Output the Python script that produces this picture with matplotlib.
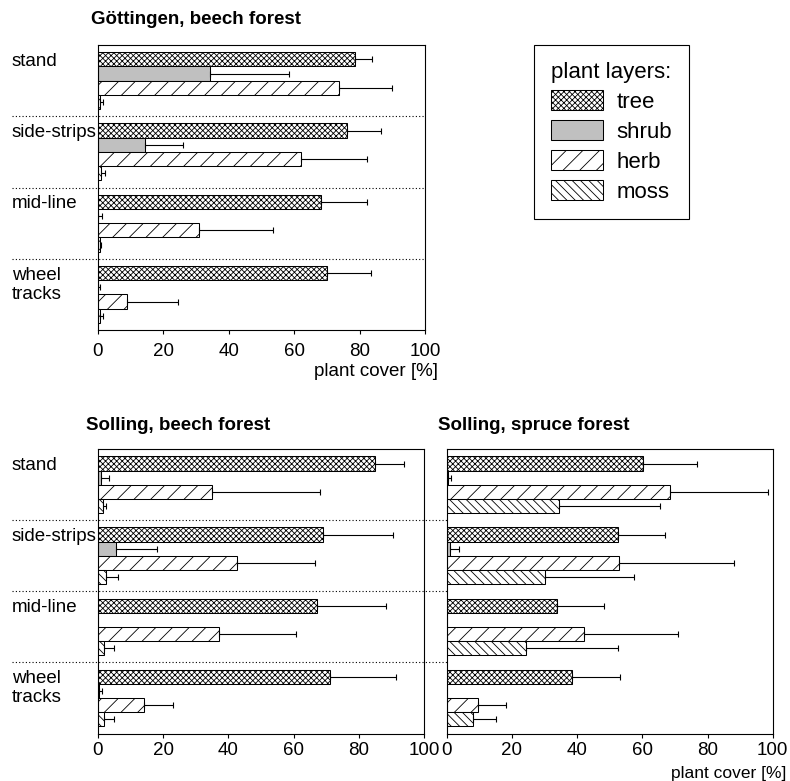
import numpy as np
import matplotlib
matplotlib.use('Agg')
import matplotlib.pyplot as plt
import matplotlib.transforms as mtransforms
from matplotlib.patches import Patch

plt.rcParams['font.family'] = ['Liberation Sans', 'DejaVu Sans']
plt.rcParams['font.size'] = 13.5
plt.rcParams['hatch.linewidth'] = 0.6

### data ##############################################################
groups = ['stand', 'side-strips', 'mid-line', 'wheel\ntracks']
layers = ['tree', 'shrub', 'herb', 'moss']

# mean plant cover [%], rows = layers (tree, shrub, herb, moss), cols = groups
goe_beech_cover = [[78.7, 76.1, 68.2, 70.0],
                   [34.4, 14.4, 0.2, 0.1],
                   [73.7, 62.2, 30.9, 9.1],
                   [0.7, 1.0, 0.7, 0.7]]
goe_beech_sd = [[5.2, 10.5, 14.2, 13.4],
                [24.2, 11.7, 1.0, 0.6],
                [16.3, 20.1, 22.8, 15.3],
                [0.8, 1.1, 0.3, 1.0]]

sol_beech_cover = [[85.0, 68.9, 67.1, 71.0],
                   [1.1, 5.7, 0.2, 0.3],
                   [35.0, 42.8, 37.1, 14.3],
                   [1.6, 2.5, 1.8, 1.8]]
sol_beech_sd = [[8.7, 21.4, 21.3, 20.2],
                [2.3, 12.4, 0.0, 1.1],
                [33.0, 23.8, 23.7, 8.9],
                [0.9, 3.8, 3.3, 3.1]]

sol_spruce_cover = [[60.1, 52.4, 33.9, 38.5],
                    [0.4, 1.1, 0.0, 0.2],
                    [68.5, 53.0, 42.0, 9.7],
                    [34.4, 30.1, 24.4, 8.2]]
sol_spruce_sd = [[16.6, 14.7, 14.5, 14.8],
                 [0.9, 2.7, 0.0, 0.0],
                 [30.0, 35.1, 29.0, 8.5],
                 [31.1, 27.5, 28.1, 6.9]]

### styles ############################################################
layer_face = ['white', '#c0c0c0', 'white', 'white']
layer_hatch = ['xxxxxx', '', '//', '\\\\\\\\']

W, H = 790, 781
fig = plt.figure(figsize=(W / 100, H / 100), dpi=100)


def px_axes(left, top, right, bottom):
    return fig.add_axes([left / W, 1 - bottom / H, (right - left) / W, (bottom - top) / H])


def draw_panel(ax, cover, sd, pad=6):
    ypos = np.arange(len(groups))
    for k in range(len(layers)):
        y = ypos - 0.3 + 0.2 * k
        vals = np.asarray(cover[k])
        errs = np.asarray(sd[k])
        ax.barh(y, vals, height=0.2, color=layer_face[k], hatch=layer_hatch[k],
                edgecolor='black', linewidth=0.75)
        m = errs > 0
        ax.errorbar(vals[m], y[m], xerr=[np.zeros(m.sum()), errs[m]], fmt='none',
                    ecolor='black', elinewidth=0.8, capsize=2.2, capthick=0.8)
    ax.set_xlim(0, 100)
    ax.set_ylim(len(groups) - 0.5, -0.5)
    ax.set_yticks([])
    ax.set_xticks(np.arange(0, 101, 20))
    ax.tick_params(axis='x', direction='out', length=3, width=0.8, pad=pad, labelsize=13.5)
    for s in ax.spines.values():
        s.set_linewidth(0.8)


def draw_separators(ax, x0, x1):
    tr = mtransforms.blended_transform_factory(fig.transFigure, ax.transData)
    for b in np.arange(len(groups) - 1) + 0.5:
        ax.plot([x0 / W, x1 / W], [b, b], transform=tr, color='black',
                linestyle=(0, (1, 2)), linewidth=0.8, clip_on=False)


def draw_group_labels(ax):
    tr = mtransforms.blended_transform_factory(fig.transFigure, ax.transData)
    for i, g in enumerate(groups):
        ax.text(12 / W, i - 0.39, g, transform=tr, ha='left', va='top',
                fontsize=13.5, linespacing=1.15)


#### Gottingen beech ##################################################
ax1 = px_axes(97.7, 45, 425, 330)
draw_panel(ax1, goe_beech_cover, goe_beech_sd)
draw_separators(ax1, 12, 425)
draw_group_labels(ax1)
ax1.text(1 + 13 / ax1.bbox.width, -41 / ax1.bbox.height, 'plant cover [%]',
         transform=ax1.transAxes, ha='right', va='center', fontsize=13.5)
fig.text(91 / W, 1 - 19.5 / H, 'Göttingen, beech forest', ha='left', va='center',
         fontsize=13.5, fontweight='bold')

#### Solling beech ####################################################
ax2 = px_axes(97.7, 449.3, 424.3, 733.5)
draw_panel(ax2, sol_beech_cover, sol_beech_sd, pad=3)
draw_separators(ax2, 12, 773)
draw_group_labels(ax2)
fig.text(85.5 / W, 1 - 426 / H, 'Solling, beech forest', ha='left', va='center',
         fontsize=13.5, fontweight='bold')

#### Solling spruce ###################################################
ax3 = px_axes(446.7, 449.3, 772.7, 733.5)
draw_panel(ax3, sol_spruce_cover, sol_spruce_sd, pad=3)
fig.text(786 / W, 0.0, 'plant cover [%]', ha='right', va='bottom', fontsize=12.5)
fig.text(438 / W, 1 - 426 / H, 'Solling, spruce forest', ha='left', va='center',
         fontsize=13.5, fontweight='bold')

#### legend ###########################################################
handles = [Patch(facecolor=layer_face[k], hatch=layer_hatch[k], edgecolor='black',
                 linewidth=0.75) for k in range(len(layers))]
leg = fig.legend(handles, layers, title='plant layers:', loc='upper left',
                 bbox_to_anchor=(534 / W, 1 - 45 / H), fontsize=16, title_fontsize=16,
                 frameon=True, fancybox=False, edgecolor='black', framealpha=1,
                 borderaxespad=0, borderpad=0.75, handlelength=2.35, handleheight=1.05,
                 labelspacing=0.32, handletextpad=0.6, alignment='left')
leg.get_frame().set_linewidth(0.8)

plt.savefig('out.png', dpi=100)
